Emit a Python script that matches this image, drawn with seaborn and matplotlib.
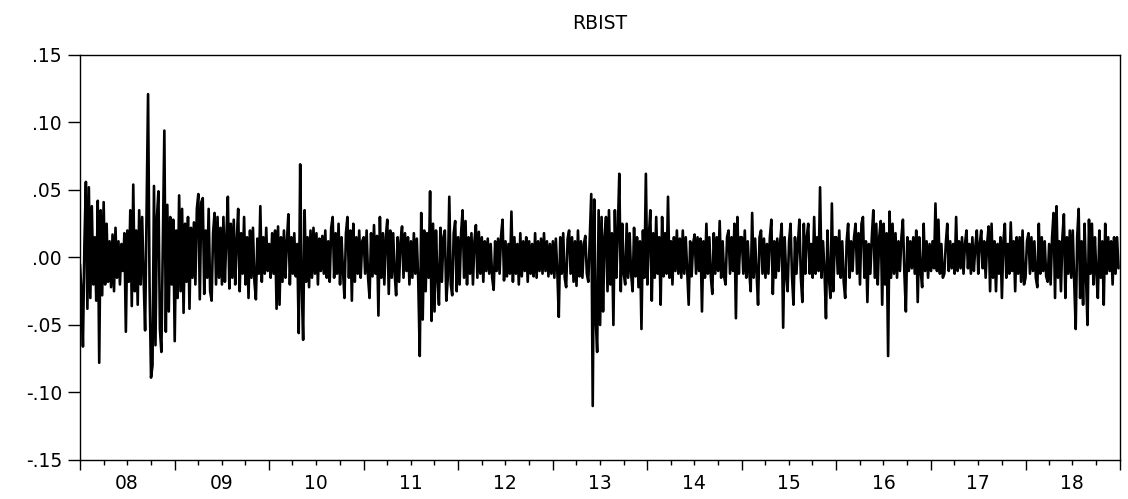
import matplotlib
matplotlib.use('Agg')
import matplotlib.pyplot as plt
import matplotlib.dates as mdates
from matplotlib.ticker import FuncFormatter, NullFormatter
import numpy as np
import pandas as pd
import seaborn as sns

# daily returns, in thousandths (12 -> 0.012)
years = list(range(2008, 2019))

r2008 = [-5, -25, -66, 10, 56, -38, 52, -30, 38, -20, 15, -32, 42, -78, 35, -28,
         41, -20, 25, -18, 12, -22, 17, -25, 22, -15, 12, -20, 10, -10, 18, -55,
         20, -18, 35, -36, 54, -25, 20, -35, 35, -20, 30, -15, -54, 35, 121, -20,
         -89, -80, 53, -65, 30, 49, -53, -70, 12, 94, -55, 39, -40, 30, -20, 28]
r2009 = [-62, 20, -30, 46, -25, 36, -41, 25, -18, 30, -38, 22, -15, 26, -20, 36,
         47, -31, 41, 44, -27, 20, -15, 36, -25, -32, 18, 33, -20, 30, -15, 22,
         -20, 30, -18, 15, 45, -23, 25, -15, 28, -20, 12, 36, -25, 18, -12, 30,
         -20, 15, -30, 20, -15, 22, -18, -31, 14, -12, 38, -18, 15, -12, 22, -10]
r2010 = [10, -15, 18, -12, 20, -38, 23, -35, 15, -18, 20, -15, 12, 32, -20, 15,
         -12, 18, -14, 10, -56, 69, -20, -61, 35, -18, 15, -22, 20, -15, 22, -12,
         18, -20, 14, -10, 16, -12, 20, -15, 12, -18, 22, 30, -15, 18, -12, 25,
         -20, 15, -10, -30, 18, 30, -15, 20, -32, 25, -18, 15, -12, 20, -15, 12]
r2011 = [15, -12, 20, -15, -30, 18, -14, 24, -12, 16, -43, 30, -15, 18, -20, 15,
         28, -27, 20, -15, 18, -12, -28, 15, -18, 12, 23, -15, 18, -10, 15, -20,
         12, -15, 18, -12, 14, -18, -73, 33, -46, 20, -25, 18, -15, 49, -47, 25,
         -40, 20, -15, -35, 22, -18, 15, 20, -32, -15, 45, -20, -28, 18, 27, -25]
r2012 = [15, -20, 18, 35, -15, 27, -20, 15, -12, 18, -20, 12, 24, -15, 19, -12,
         15, -18, 12, -10, 14, -12, 10, -15, -24, 12, -10, 14, -12, 16, 28, -17,
         12, -14, 10, -12, 34, -18, 15, -12, 10, -20, 18, -14, 12, -10, 15, -18,
         12, -12, 10, -14, 18, -15, 12, -10, 14, -12, 18, -10, 12, -14, 10, -12]
r2013 = [12, -15, 14, -10, -44, 15, -12, 18, -15, -22, 14, 20, -12, 15, -18, 12,
         -21, 20, -14, 12, -15, 10, 16, -12, -18, 14, 47, -110, 43, -45, -70, 35,
         -50, 30, -40, 15, 30, -25, 35, -20, 18, -50, 35, -15, 20, 62, -25, 25,
         -12, -20, 25, -15, 18, -12, -25, 22, -14, 15, -22, 12, -53, 20, -15, 62]
r2014 = [-20, 15, 35, -32, 18, -15, 30, -12, 15, -35, 30, -14, 18, -12, 45, -15,
         12, -20, 15, -10, 20, -12, 14, -15, 20, -12, 15, -10, -35, 12, -14, 10,
         17, -12, 15, -10, 14, -40, 12, -15, 25, -12, 15, -14, -27, 18, -12, 15,
         -10, 27, -15, 12, -14, -20, 15, 20, -12, 15, -10, 25, -45, 30, -12, 15]
r2015 = [15, -12, 20, -15, 12, -10, -25, 33, -15, 14, -12, -35, 15, 20, -12, 14,
         -15, 10, -12, 15, 28, -27, 12, -15, 14, -10, 12, 25, -52, 15, -12, -25,
         12, 25, -14, -35, 15, -12, 10, 28, -15, -33, 25, -12, 15, 25, -12, 10,
         -15, 30, -12, 15, -10, 52, -15, 12, -10, -45, 20, -15, -30, 40, -25, 15]
r2016 = [15, -12, 20, -15, 12, -18, -30, 12, 25, -15, 12, -10, 15, 25, -12, 18,
         -20, 25, 30, -15, 12, -33, 10, -12, 15, 35, -15, 25, -20, 15, 27, -35,
         25, -20, 18, -73, 34, -15, 25, -12, 18, -15, 12, -10, 15, 28, -12, -40,
         15, -10, 12, -8, 15, -12, 20, -33, 15, -10, -22, 25, -10, 12, -15, 10]
r2017 = [-10, 12, -8, 40, -10, 28, -12, 10, -15, -12, 10, 25, -10, 12, -8, 10,
         -12, 30, -10, 12, -8, 15, -12, 10, 20, -8, 10, -12, 15, -10, 8, 20,
         -12, 10, 20, -8, 12, -15, 10, 23, -25, 25, -15, 12, -25, 10, -12, 15,
         -30, 12, 25, -15, 10, -12, 26, -10, 12, -25, 15, -12, 15, -18, 20, -20]
r2018 = [-15, 12, 18, -12, 15, -10, 12, -15, -22, 25, -12, 15, -10, 12, -14, -18,
         10, -20, 15, 33, -30, 38, -15, 12, -25, 15, 32, -30, 15, -12, 20, -15,
         20, -18, -53, 15, 36, -30, 12, -35, 25, -15, -50, 28, -12, 25, -20, 15,
         -12, -30, 20, -15, 12, -35, 25, -12, 15, -10, 12, -20, 15, -12, 15, -8]

year_values = [r2008, r2009, r2010, r2011, r2012, r2013,
               r2014, r2015, r2016, r2017, r2018]

ytick_values = [-0.15, -0.10, -0.05, 0.00, 0.05, 0.10, 0.15]
ytick_labels = ['-.15', '-.10', '-.05', '.00', '.05', '.10', '.15']

# spread each year's observations over that calendar year
frames = []
for year, vals in zip(years, year_values):
    d = pd.date_range(f'{year}-01-01', f'{year + 1}-01-01', periods=len(vals) + 1)[:-1]
    frames.append(pd.DataFrame({'date': d, 'rbist': np.array(vals) / 1000.0}))
df = pd.concat(frames, ignore_index=True)

sns.set_theme(style='ticks')
plt.rcParams['font.family'] = ['DejaVu Sans']

fig = plt.figure(figsize=(11.28, 4.99), dpi=100)
ax = fig.add_axes([0.0709, 0.0782, 0.9220, 0.8116])

sns.lineplot(data=df, x='date', y='rbist', color='black', linewidth=1.9, ax=ax)

ax.set_xlabel('')
ax.set_ylabel('')
ax.set_xlim(pd.Timestamp('2008-01-01'), pd.Timestamp('2019-01-01'))
ax.set_ylim(-0.15, 0.15)
ax.set_yticks(ytick_values)
ax.set_yticklabels(ytick_labels)


def year_label(x, pos):
    d = mdates.num2date(x)
    return d.strftime('%y') if d.month == 7 else ''


ax.xaxis.set_major_locator(mdates.YearLocator())
ax.xaxis.set_major_formatter(NullFormatter())
ax.xaxis.set_minor_locator(mdates.MonthLocator(bymonth=[4, 7, 10]))
ax.xaxis.set_minor_formatter(FuncFormatter(year_label))

ax.tick_params(axis='x', which='major', length=7.2, width=1, direction='out', color='black')
ax.tick_params(axis='x', which='minor', length=3.6, width=1, direction='out', color='black',
               pad=6.5, labelsize=13.5, labelcolor='black')
ax.tick_params(axis='y', which='major', length=8.6, width=1, direction='out', color='black',
               pad=4.3, labelsize=13.5, labelcolor='black')

for side in ['left', 'right', 'top', 'bottom']:
    ax.spines[side].set_visible(True)
    ax.spines[side].set_color('black')
    ax.spines[side].set_linewidth(1)

ax.set_title('RBIST', fontsize=13.5, color='black', pad=19)

fig.savefig('out.png', dpi=100, facecolor='white')
